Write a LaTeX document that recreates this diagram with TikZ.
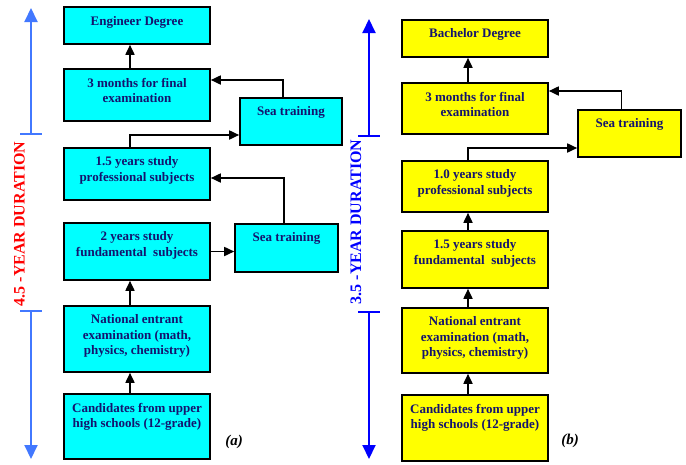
\documentclass[tikz,border=0pt]{standalone}
\usepackage{fontspec}
\setmainfont{Liberation Serif}
\usetikzlibrary{arrows.meta}
\definecolor{txtc}{RGB}{20,20,110}
\definecolor{lblue}{RGB}{66,120,255}
\definecolor{dblue}{RGB}{0,0,255}
\definecolor{cyanbox}{RGB}{0,255,255}
\definecolor{yelbox}{RGB}{255,255,0}
\tikzset{
  box/.style={draw=black, line width=1.6pt, inner sep=0pt, minimum width=146pt},
  cbox/.style={box, fill=cyanbox},
  ybox/.style={box, fill=yelbox},
  btxt/.style={anchor=north, inner sep=0pt, align=center, text=txtc,
    font=\fontsize{13}{15.5}\selectfont\bfseries},
  arr/.style={line width=1.7pt, -{Triangle[length=10pt,width=9pt]}},
  durL/.style={lblue, line width=2pt},
  durR/.style={dblue, line width=2pt},
  dtip/.style={-{Triangle[length=14pt,width=13pt]}},
  durtxt/.style={rotate=90, inner sep=0pt, font=\fontsize{16}{18}\selectfont\bfseries},
  plabel/.style={inner sep=0pt, font=\fontsize{15}{17}\selectfont\bfseries\itshape}
}
\begin{document}
\begin{tikzpicture}[x=1pt,y=-1pt]
\useasboundingbox (0,0) rectangle (686,464);
% ---------- left panel ----------
\node[cbox, minimum height=37pt] (eng) at (137,25.5) {};
\node[cbox, minimum height=52pt] (fin) at (137,95) {};
\node[cbox, minimum width=102pt, minimum height=47pt] (seaA) at (291,121.5) {};
\node[cbox, minimum height=52pt] (pro) at (137,174) {};
\node[cbox, minimum height=57pt] (fun) at (137,251.5) {};
\node[cbox, minimum width=103pt, minimum height=48pt] (seaB) at (286.5,248) {};
\node[cbox, minimum height=66pt] (nat) at (137,339) {};
\node[cbox, minimum height=65pt] (can) at (137,426.5) {};
\node[btxt] (engT) at ([yshift=-10.5pt]eng.north) {Engineer Degree};
\node[btxt] (finT) at ([yshift=-9.5pt]fin.north) {3 months for final\\examination};
\node[btxt] (seaAT) at ([yshift=-9.5pt]seaA.north) {Sea training};
\node[btxt] (proT) at ([yshift=-9.5pt]pro.north) {1.5 years study\\professional subjects};
\node[btxt] (funT) at ([yshift=-9.5pt]fun.north) {2 years study\\fundamental~ subjects};
\node[btxt] (seaBT) at ([yshift=-9.5pt]seaB.north) {Sea training};
\node[btxt] (natT) at ([yshift=-9.5pt]nat.north) {National entrant\\examination (math,\\physics, chemistry)};
\node[btxt] (canT) at ([yshift=-9.5pt]can.north) {Candidates from upper\\high schools (12-grade)};
\node[plabel] (la) at (234,442) {(a)};
\draw[arr] ([xshift=-7pt]fin.north) -- ([xshift=-7pt]eng.south);
\draw[arr] ([xshift=-8pt]seaA.north) |- ([yshift=15pt]fin.east);
\draw[arr] ([xshift=-7pt]pro.north) |- ([yshift=-13.5pt]seaA.west);
\draw[arr] ([xshift=-2.5pt]seaB.north) |- ([yshift=-4pt]pro.east);
\draw[arr] (fun.east) -- (fun.east -| seaB.west);
\draw[arr] ([xshift=-7pt]nat.north) -- ([xshift=-7pt]fun.south);
\draw[arr] ([xshift=-7pt]can.north) -- ([xshift=-7pt]nat.south);
% duration left
\coordinate (lt) at (31,8);
\coordinate (lb1) at (31,134);
\coordinate (lb2) at (31,311);
\coordinate (lbt) at (31,459);
\draw[durL, dtip] (lb1) -- (lt);
\draw[durL, dtip] (lb2) -- (lbt);
\draw[durL] ([xshift=-11pt]lb1) -- ([xshift=11pt]lb1);
\draw[durL] ([xshift=-11pt]lb2) -- ([xshift=11pt]lb2);
\node[durtxt, text=red] (ldur) at (19.5,224) {4.5 -YEAR DURATION};
% ---------- right panel ----------
\node[ybox, minimum height=37pt] (bach) at (475,38.5) {};
\node[ybox, minimum height=51pt] (fin2) at (475,108.5) {};
\node[ybox, minimum width=103pt, minimum height=47pt] (sea2) at (629.5,133.5) {};
\node[ybox, minimum height=51pt] (pro2) at (475,186.5) {};
\node[ybox, minimum height=57pt] (fun2) at (475,259.5) {};
\node[ybox, minimum height=65pt] (nat2) at (475,340.5) {};
\node[ybox, minimum height=66pt] (can2) at (475,428) {};
\node[btxt] (bachT) at ([yshift=-9.5pt]bach.north) {Bachelor Degree};
\node[btxt] (fin2T) at ([yshift=-9.5pt]fin2.north) {3 months for final\\examination};
\node[btxt] (sea2T) at ([yshift=-9.5pt]sea2.north) {Sea training};
\node[btxt] (pro2T) at ([yshift=-9.5pt]pro2.north) {1.0 years study\\professional subjects};
\node[btxt] (fun2T) at ([yshift=-9.5pt]fun2.north) {1.5 years study\\fundamental~ subjects};
\node[btxt] (nat2T) at ([yshift=-9.5pt]nat2.north) {National entrant\\examination (math,\\physics, chemistry)};
\node[btxt] (can2T) at ([yshift=-9.5pt]can2.north) {Candidates from upper\\high schools (12-grade)};
\node[plabel] (lb) at (570,441) {(b)};
\draw[arr] ([xshift=-7pt]fin2.north) -- ([xshift=-7pt]bach.south);
\draw[arr] ([xshift=-8pt]sea2.north) |- ([yshift=17.5pt]fin2.east);
\draw[arr] ([xshift=-7pt]pro2.north) |- ([yshift=-14.5pt]sea2.west);
\draw[arr] ([xshift=-7pt]fun2.north) -- ([xshift=-7pt]pro2.south);
\draw[arr] ([xshift=-7pt]nat2.north) -- ([xshift=-7pt]fun2.south);
\draw[arr] ([xshift=-7pt]can2.north) -- ([xshift=-7pt]nat2.south);
% duration right
\coordinate (rt) at (369,19);
\coordinate (rb1) at (369,136);
\coordinate (rb2) at (369,312);
\coordinate (rbt) at (369,459);
\draw[durR, dtip] (rb1) -- (rt);
\draw[durR, dtip] (rb2) -- (rbt);
\draw[durR] ([xshift=-11pt]rb1) -- ([xshift=11pt]rb1);
\draw[durR] ([xshift=-11pt]rb2) -- ([xshift=11pt]rb2);
\node[durtxt, text=dblue] (rdur) at (356,222) {3.5 -YEAR DURATION};
\end{tikzpicture}
\end{document}
